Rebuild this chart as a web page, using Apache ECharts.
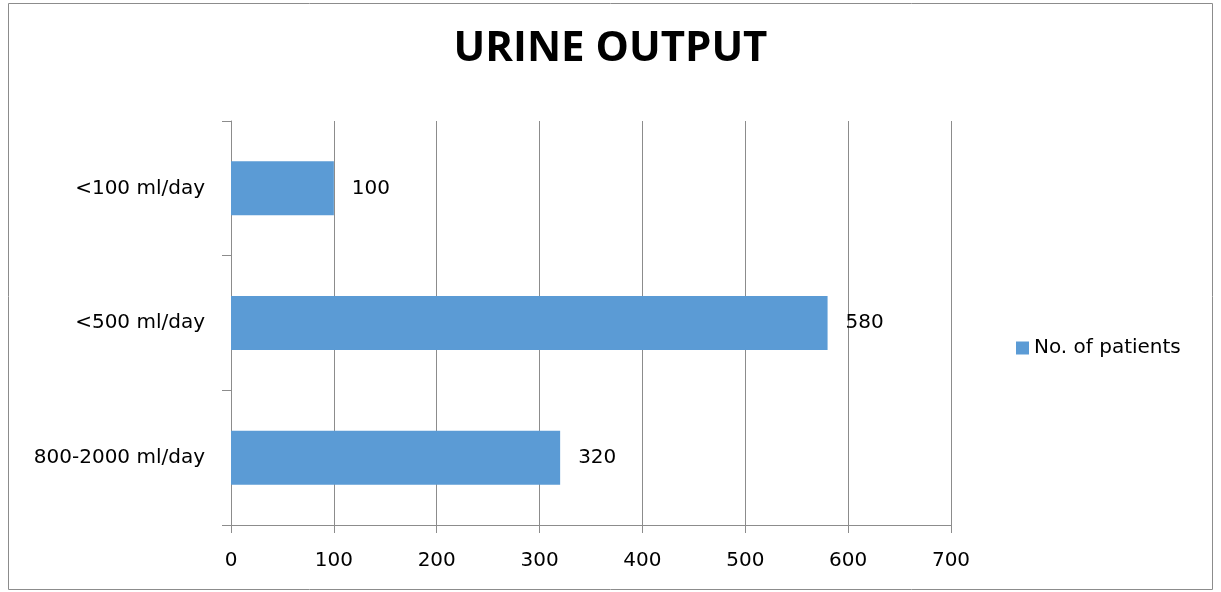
<!DOCTYPE html>
<html><head><meta charset="utf-8">
<script src="https://cdn.jsdelivr.net/npm/echarts@6/dist/echarts.min.js"></script>
<style>html,body{margin:0;padding:0;background:#fff}#c{width:1221px;height:592px}</style>
</head><body><div id="c"></div>
<script>
const categories = ['800-2000 ml/day', '<500 ml/day', '<100 ml/day'];
const patients = [320, 580, 100];
const xTicks = { min: 0, max: 700, interval: 100 };
const seriesName = 'No. of patients';
const titleText = 'URINE OUTPUT';

const chart = echarts.init(document.getElementById('c'));
const font = '"DejaVu Sans", "Noto Sans", sans-serif';
const tfont = '"Open Sans", "Noto Sans", sans-serif';
chart.setOption({
  animation: false,
  title: { text: titleText, left: 'center', top: 23,
    textStyle: { fontFamily: tfont, fontSize: 42, fontWeight: 'bold', color: '#000' } },
  graphic: [{ type: 'rect', shape: { x: 8.5, y: 3.5, width: 1204, height: 586 },
    style: { fill: 'none', stroke: '#8c8c8c', lineWidth: 1 } }],
  legend: { data: [seriesName], left: 1011, top: 333, itemWidth: 13, itemHeight: 13,
    icon: 'rect', itemGap: 5,
    textStyle: { fontFamily: font, fontSize: 20, color: '#000' } },
  grid: { left: 231, right: 270, top: 121, bottom: 67, containLabel: false },
  xAxis: { type: 'value', min: xTicks.min, max: xTicks.max, interval: xTicks.interval,
    axisLine: { show: true, lineStyle: { color: '#8c8c8c' } },
    axisTick: { show: true, length: 8, lineStyle: { color: '#8c8c8c' } },
    splitLine: { show: true, lineStyle: { color: '#8c8c8c' } },
    axisLabel: { fontFamily: font, fontSize: 20, color: '#000', margin: 26 } },
  yAxis: { type: 'category', data: categories,
    axisLine: { show: true, lineStyle: { color: '#8c8c8c' } },
    axisTick: { show: true, length: 9, lineStyle: { color: '#8c8c8c' } },
    axisLabel: { fontFamily: font, fontSize: 20, color: '#000', margin: 26 } },
  series: [{ name: seriesName, type: 'bar', data: patients, barWidth: 54,
    itemStyle: { color: '#5b9bd5' },
    label: { show: true, position: 'right', distance: 18, fontFamily: font, fontSize: 20, color: '#000' } }]
});
</script></body></html>
